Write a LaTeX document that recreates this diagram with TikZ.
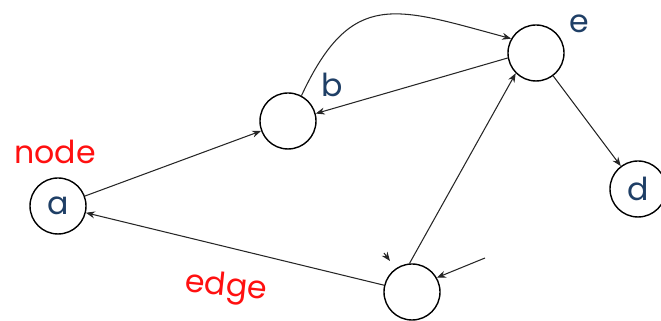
\documentclass[tikz,border=0pt]{standalone}
\usepackage{fontspec}
\setmainfont{Poppins}
\usetikzlibrary{arrows.meta,positioning}
\definecolor{labelblue}{HTML}{1F3F66}
\definecolor{notered}{HTML}{FF1010}

\begin{document}
\begin{tikzpicture}[
  vertex/.style={circle, draw, line width=0.8pt, minimum size=1.12cm, inner sep=0pt,
    font=\fontsize{18}{20}\selectfont, text=labelblue},
  lbl/.style={font=\fontsize{18}{20}\selectfont, text=labelblue},
  note/.style={font=\fontsize{18}{20}\selectfont, text=notered},
  arr/.style={-{Stealth[length=1.8mm, width=1.4mm]}, line width=0.6pt, black!85}
]
  \useasboundingbox (0,0) rectangle (13.22,6.42);

  \node[vertex] (a) at (1.16,2.30) {a};
  \node[vertex] (b) at (5.76,4.00) {};
  \node[vertex] (e) at (10.72,5.36) {};
  \node[vertex] (d) at (12.76,2.64) {d};
  \node[vertex] (bot) at (8.24,0.58) {};

  \node[note] (nodetxt) at (1.10,3.38) {node};
  \node[note, rotate=-6] (edgetxt) at (4.52,0.66) {edge};
  \node[lbl] (blbl) at (6.64,4.72) {b};
  \node[lbl] (elbl) at (11.58,5.94) {e};

  \coordinate (src) at (9.70,1.26);
  \coordinate (tipA) at (7.68,1.36);
  \coordinate (tipB) at (7.80,1.20);

  \draw[arr] (a) -- (b);
  \draw[arr] (bot) -- (a);
  \draw[arr] (bot.95) -- (e.225);
  \draw[arr] (e.190) -- (b.15);
  \draw[arr] (b.62) to[out=65, in=165, looseness=1.4] (e.150);
  \draw[arr] (e) -- (d);
  \draw[arr] (src) -- (bot.30);
  \draw[arr] (tipA) -- (tipB);
\end{tikzpicture}
\end{document}
